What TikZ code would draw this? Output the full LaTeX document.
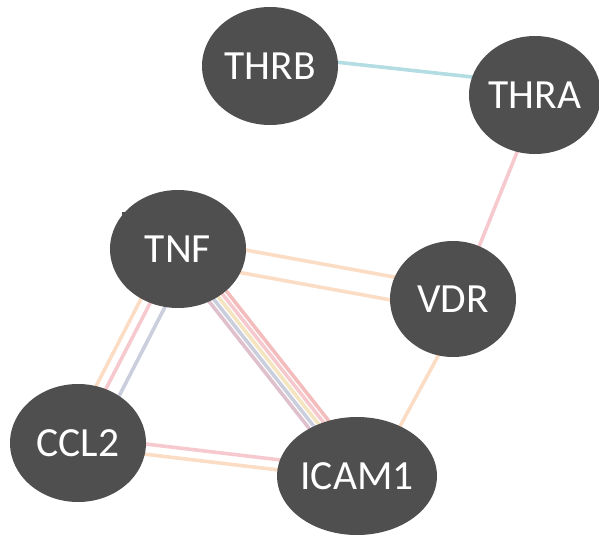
\documentclass[tikz,border=0pt]{standalone}
\usepackage{fontspec}
\setmainfont{Carlito}
\usetikzlibrary{shapes.geometric,backgrounds}
\definecolor{nodegray}{HTML}{4F4F4F}
\definecolor{eblue}{HTML}{B4DDE3}
\definecolor{epink}{HTML}{F6C9CE}
\definecolor{epeach}{HTML}{FBDCC4}
\definecolor{egrey}{HTML}{CBCEDC}
\definecolor{emauve}{HTML}{DFC0CD}
\definecolor{eyellow}{HTML}{F4E5C0}
\definecolor{ered}{HTML}{F4BDBD}
\tikzset{
  gene/.style={ellipse, fill=nodegray, text=white, inner sep=0pt,
    minimum width=136pt, minimum height=118pt,
    font=\fontsize{41.5}{41.5}\selectfont},
  edge/.style={line width=3.6pt, line cap=round},
}
\begin{document}
\begin{tikzpicture}[x=1pt,y=-1pt]
\useasboundingbox (0,0) rectangle (599,538);
\fill[nodegray] (122,212) rectangle (134,224);
\node[gene] (THRB)  at (270,66)  {THRB};
\node[gene, minimum width=132pt] (THRA)  at (535,95)  {THRA};
\node[gene] (TNF)   at (178,249) {TNF};
\node[gene, minimum width=126pt, minimum height=116pt] (VDR)   at (453,299) {VDR};
\node[gene] (CCL2)  at (78,443)  {CCL2};
\node[gene] (ICAM1) at (357,476) {ICAM1};
\begin{scope}[on background layer]
  % THRB - THRA
  \draw[edge, eblue, transform canvas={shift={(1.3,-11)}}] (THRB.center) -- (THRA.center);
  % THRA - VDR
  \draw[edge, epink, transform canvas={shift={(5,0)}}] (THRA.center) -- (VDR.center);
  % TNF - VDR
  \draw[edge, epeach, transform canvas={shift={(1.5,-11)}}] (TNF.center) -- (VDR.center);
  \draw[edge, epeach, transform canvas={shift={(-1.5,12)}}] (TNF.center) -- (VDR.center);
  % VDR - ICAM1
  \draw[edge, epeach, transform canvas={shift={(12.3,6.8)}}] (VDR.center) -- (ICAM1.center);
  % TNF - CCL2
  \draw[edge, epeach, transform canvas={shift={(-8.9,-4.6)}}] (TNF.center) -- (CCL2.center);
  \draw[edge, epink] (TNF.center) -- (CCL2.center);
  \draw[edge, egrey, transform canvas={shift={(13.3,6.9)}}] (TNF.center) -- (CCL2.center);
  % TNF - ICAM1
  \draw[edge, emauve, transform canvas={shift={(-6.3,5.0)}}] (TNF.center) -- (ICAM1.center);
  \draw[edge, egrey, transform canvas={shift={(-2.4,1.9)}}] (TNF.center) -- (ICAM1.center);
  \draw[edge, eyellow, transform canvas={shift={(1.6,-1.2)}}] (TNF.center) -- (ICAM1.center);
  \draw[edge, epink, transform canvas={shift={(5.5,-4.3)}}] (TNF.center) -- (ICAM1.center);
  \draw[edge, ered, transform canvas={shift={(9.4,-7.4)}}] (TNF.center) -- (ICAM1.center);
  % CCL2 - ICAM1
  \draw[edge, epink, transform canvas={shift={(0.8,-6.9)}}] (CCL2.center) -- (ICAM1.center);
  \draw[edge, epeach, transform canvas={shift={(-0.4,3.2)}}] (CCL2.center) -- (ICAM1.center);
\end{scope}
\end{tikzpicture}
\end{document}
